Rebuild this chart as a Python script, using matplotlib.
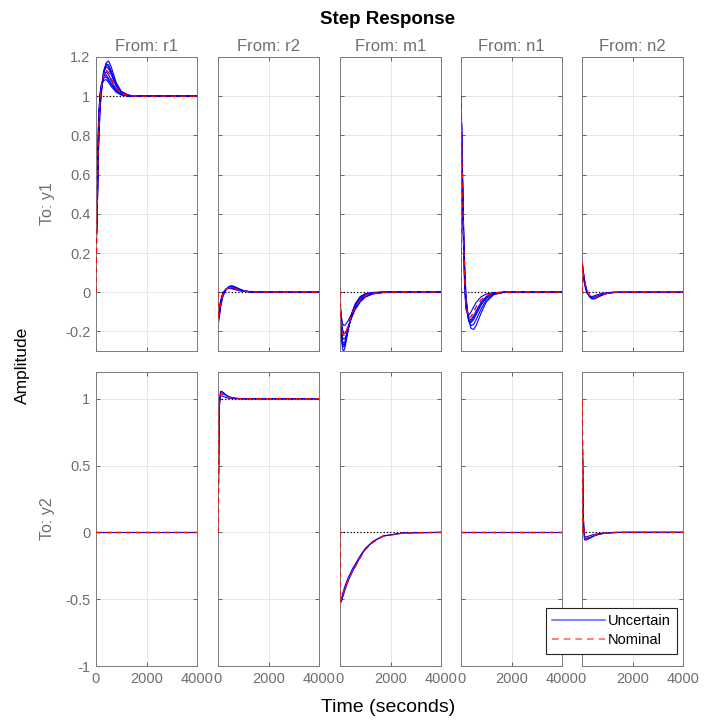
import matplotlib
matplotlib.use("Agg")
import matplotlib.pyplot as plt
from matplotlib.lines import Line2D

plt.rcParams['font.family'] = ['Liberation Sans', 'DejaVu Sans']

# sample times (s) shared by every response
t = [0, 1, 50, 100, 150, 200, 300, 400, 500, 600, 800, 1000, 1300, 1700, 2500, 4000]

inputs = ['r1', 'r2', 'm1', 'n1', 'n2']
outputs = ['y1', 'y2']
final = {('y1', 'r1'): 1, ('y2', 'r2'): 1}

# nominal responses
nom_y1 = {
    'r1': [0, 0.05, 0.45, 0.80, 0.96, 1.04, 1.11, 1.135, 1.12, 1.09, 1.04, 1.015, 1.003, 1.0, 1.0, 1.0],
    'r2': [0, -0.14, -0.10, -0.06, -0.03, -0.01, 0.012, 0.022, 0.024, 0.022, 0.013, 0.006, 0.001, 0, 0, 0],
    'm1': [0, -0.05, -0.15, -0.21, -0.22, -0.215, -0.18, -0.14, -0.105, -0.077, -0.04, -0.018, -0.005, -0.001, 0, 0],
    'n1': [0, 1, 0.62, 0.28, 0.05, -0.07, -0.13, -0.125, -0.10, -0.075, -0.038, -0.017, -0.004, 0, 0, 0],
    'n2': [0, 0.15, 0.10, 0.06, 0.03, 0.01, -0.015, -0.027, -0.028, -0.024, -0.014, -0.006, -0.001, 0, 0, 0],
}
nom_y2 = {
    'r1': [0] * 16,
    'r2': [0, 0, 0.95, 1.035, 1.035, 1.03, 1.02, 1.012, 1.007, 1.004, 1.001, 1.0, 1.0, 1.0, 1.0, 1.0],
    'm1': [0, -0.52, -0.50, -0.47, -0.44, -0.42, -0.37, -0.33, -0.29, -0.26, -0.19, -0.13, -0.075, -0.03, -0.005, 0],
    'n1': [0] * 16,
    'n2': [0, 1, 0.10, -0.04, -0.045, -0.042, -0.035, -0.027, -0.02, -0.015, -0.008, -0.004, -0.001, 0, 0, 0],
}

# a few of the uncertain (sampled) responses
unc_y1 = {
    'r1': [
        [0, 0.2, 0.40, 0.72, 0.90, 1.00, 1.11, 1.17, 1.18, 1.15, 1.07, 1.025, 1.005, 1.0, 1.0, 1.0],
        [0, 0.2, 0.50, 0.85, 0.99, 1.05, 1.10, 1.11, 1.09, 1.065, 1.03, 1.01, 1.0, 1.0, 1.0, 1.0],
        [0, 0.2, 0.45, 0.78, 0.94, 1.02, 1.12, 1.15, 1.14, 1.11, 1.05, 1.02, 1.004, 1.0, 1.0, 1.0],
        [0, 0.2, 0.55, 0.88, 1.00, 1.05, 1.08, 1.085, 1.07, 1.05, 1.02, 1.006, 1.0, 1.0, 1.0, 1.0],
        [0, 0.2, 0.42, 0.75, 0.92, 1.01, 1.13, 1.165, 1.16, 1.13, 1.06, 1.022, 1.004, 1.0, 1.0, 1.0],
        [0, 0.2, 0.48, 0.82, 0.97, 1.04, 1.10, 1.125, 1.11, 1.08, 1.035, 1.012, 1.002, 1.0, 1.0, 1.0],
        [0, 0.2, 0.44, 0.77, 0.93, 1.015, 1.115, 1.16, 1.15, 1.12, 1.055, 1.02, 1.003, 1.0, 1.0, 1.0],
        [0, 0.2, 0.52, 0.86, 0.99, 1.05, 1.09, 1.10, 1.08, 1.06, 1.025, 1.008, 1.0, 1.0, 1.0, 1.0],
    ],
    'r2': [
        [0, -0.17, -0.13, -0.08, -0.045, -0.02, 0.008, 0.025, 0.033, 0.032, 0.02, 0.009, 0.002, 0, 0, 0],
        [0, -0.12, -0.08, -0.045, -0.02, -0.003, 0.015, 0.02, 0.019, 0.016, 0.009, 0.004, 0.001, 0, 0, 0],
        [0, -0.15, -0.11, -0.065, -0.035, -0.012, 0.013, 0.026, 0.029, 0.026, 0.016, 0.007, 0.001, 0, 0, 0],
        [0, -0.16, -0.12, -0.07, -0.04, -0.016, 0.01, 0.024, 0.028, 0.028, 0.018, 0.008, 0.002, 0, 0, 0],
        [0, -0.13, -0.09, -0.05, -0.025, -0.006, 0.014, 0.021, 0.022, 0.019, 0.011, 0.005, 0.001, 0, 0, 0],
    ],
    'm1': [
        [0, -0.08, -0.22, -0.29, -0.30, -0.28, -0.21, -0.145, -0.095, -0.06, -0.022, -0.007, -0.001, 0, 0, 0],
        [0, -0.05, -0.12, -0.16, -0.17, -0.168, -0.15, -0.125, -0.10, -0.078, -0.045, -0.024, -0.009, -0.002, 0, 0],
        [0, -0.06, -0.18, -0.25, -0.26, -0.25, -0.20, -0.15, -0.11, -0.08, -0.038, -0.016, -0.004, 0, 0, 0],
        [0, -0.04, -0.13, -0.19, -0.21, -0.21, -0.185, -0.15, -0.118, -0.09, -0.05, -0.025, -0.008, -0.001, 0, 0],
        [0, -0.07, -0.20, -0.27, -0.28, -0.265, -0.20, -0.14, -0.095, -0.063, -0.025, -0.009, -0.002, 0, 0, 0],
        [0, -0.05, -0.16, -0.23, -0.24, -0.235, -0.195, -0.15, -0.112, -0.082, -0.042, -0.02, -0.006, 0, 0, 0],
        [0, -0.06, -0.19, -0.26, -0.27, -0.26, -0.205, -0.148, -0.10, -0.068, -0.03, -0.011, -0.003, 0, 0, 0],
    ],
    'n1': [
        [0, 1, 0.68, 0.35, 0.12, -0.02, -0.14, -0.185, -0.19, -0.17, -0.105, -0.05, -0.012, -0.001, 0, 0],
        [0, 1, 0.58, 0.22, 0.00, -0.09, -0.12, -0.10, -0.075, -0.052, -0.023, -0.009, -0.002, 0, 0, 0],
        [0, 1, 0.64, 0.30, 0.07, -0.05, -0.14, -0.155, -0.14, -0.115, -0.065, -0.03, -0.007, 0, 0, 0],
        [0, 1, 0.60, 0.25, 0.03, -0.08, -0.135, -0.14, -0.12, -0.095, -0.05, -0.022, -0.005, 0, 0, 0],
        [0, 1, 0.66, 0.33, 0.10, -0.035, -0.145, -0.17, -0.165, -0.14, -0.085, -0.04, -0.01, 0, 0, 0],
        [0, 1, 0.62, 0.28, 0.05, -0.065, -0.14, -0.15, -0.13, -0.105, -0.058, -0.026, -0.006, 0, 0, 0],
    ],
    'n2': [
        [0, 0.17, 0.11, 0.065, 0.03, 0.005, -0.025, -0.035, -0.034, -0.028, -0.015, -0.006, -0.001, 0, 0, 0],
        [0, 0.13, 0.08, 0.04, 0.012, -0.005, -0.02, -0.022, -0.018, -0.013, -0.006, -0.002, 0, 0, 0, 0],
        [0, 0.16, 0.10, 0.055, 0.025, 0.002, -0.022, -0.031, -0.031, -0.026, -0.014, -0.006, -0.001, 0, 0, 0],
        [0, 0.14, 0.09, 0.05, 0.02, 0.0, -0.02, -0.026, -0.024, -0.019, -0.01, -0.004, 0, 0, 0, 0],
    ],
}
unc_y2 = {
    'r1': [[0] * 16],
    'r2': [
        [0, 0, 0.97, 1.055, 1.055, 1.048, 1.032, 1.02, 1.012, 1.007, 1.002, 1.0, 1.0, 1.0, 1.0, 1.0],
        [0, 0, 0.93, 1.02, 1.022, 1.018, 1.01, 1.005, 1.003, 1.001, 1.0, 1.0, 1.0, 1.0, 1.0, 1.0],
        [0, 0, 0.96, 1.045, 1.045, 1.04, 1.026, 1.016, 1.009, 1.005, 1.001, 1.0, 1.0, 1.0, 1.0, 1.0],
    ],
    'm1': [
        [0, -0.53, -0.52, -0.49, -0.46, -0.43, -0.375, -0.33, -0.29, -0.255, -0.185, -0.125, -0.07, -0.028, -0.004, 0],
        [0, -0.51, -0.50, -0.465, -0.43, -0.40, -0.35, -0.31, -0.27, -0.24, -0.175, -0.12, -0.068, -0.027, -0.004, 0],
    ],
    'n1': [[0] * 16],
    'n2': [
        [0, 1, 0.08, -0.055, -0.058, -0.054, -0.045, -0.035, -0.026, -0.019, -0.01, -0.005, -0.001, 0, 0, 0],
        [0, 1, 0.12, -0.03, -0.035, -0.032, -0.026, -0.02, -0.015, -0.011, -0.006, -0.003, -0.001, 0, 0, 0],
        [0, 1, 0.10, -0.048, -0.05, -0.047, -0.04, -0.031, -0.023, -0.017, -0.009, -0.004, -0.001, 0, 0, 0],
    ],
}

W, H = 704, 720
col_left = [96, 218, 340, 461, 582]
col_w = 101
row_top = [57, 372]
row_h = 294
gray = '#6e6e6e'

fig = plt.figure(figsize=(W / 100, H / 100), dpi=100)

for i, out in enumerate(outputs):
    nom = nom_y1 if out == 'y1' else nom_y2
    unc = unc_y1 if out == 'y1' else unc_y2
    for j, inp in enumerate(inputs):
        ax = fig.add_axes([col_left[j] / W, 1 - (row_top[i] + row_h) / H, col_w / W, row_h / H])
        ax.axhline(final.get((out, inp), 0), color='k', ls=':', lw=0.9, zorder=1)
        for y in unc[inp]:
            ax.plot(t, y, color='b', lw=0.8, zorder=2)
        ax.plot(t, nom[inp], color='r', ls='--', lw=1.0, dashes=(4, 3), zorder=3)
        ax.set_xlim(0, 4000)
        ax.set_xticks([0, 2000, 4000])
        if out == 'y1':
            ax.set_ylim(-0.3, 1.2)
            ax.set_yticks([-0.2, 0, 0.2, 0.4, 0.6, 0.8, 1, 1.2])
            ax.set_yticklabels(['-0.2', '0', '0.2', '0.4', '0.6', '0.8', '1', '1.2'])
            ax.tick_params(labelbottom=False)
            ax.set_title('From: ' + inp, color=gray, fontsize=12, pad=4)
        else:
            ax.set_ylim(-1, 1.2)
            ax.set_yticks([-1, -0.5, 0, 0.5, 1])
            ax.set_yticklabels(['-1', '-0.5', '0', '0.5', '1'])
            ax.set_xticklabels(['0', '2000', '4000'])
        if j > 0:
            ax.tick_params(labelleft=False)
        ax.grid(True, color='#e3e3e3', lw=0.6)
        ax.set_axisbelow(True)
        ax.tick_params(direction='in', length=3, width=0.6, colors='#4d4d4d',
                       labelcolor=gray, labelsize=10.5, top=True, right=True, pad=4)
        for s in ax.spines.values():
            s.set_color('#7a7a7a')
            s.set_linewidth(0.7)
        if j == 0:
            ax.set_ylabel('To: ' + out, color=gray, fontsize=11.5, labelpad=7)

fig.text(388 / W, 1 - 20 / H, 'Step Response', ha='center', va='center',
         fontsize=13.5, fontweight='bold')
fig.text(388 / W, 1 - 708 / H, 'Time (seconds)', ha='center', va='center', fontsize=14)
fig.text(22 / W, 1 - 365 / H, 'Amplitude', ha='center', va='center',
         rotation=90, fontsize=12.5)

handles = [Line2D([], [], color='#6a6aff', lw=1.2),
           Line2D([], [], color='#ff6a6a', lw=1.2, ls='--', dashes=(4, 3))]
leg = fig.legend(handles, ['Uncertain', 'Nominal'], loc='lower right',
                 bbox_to_anchor=(677 / W, 1 - 654 / H),
                 fontsize=10.5, frameon=True, fancybox=False, framealpha=1,
                 handlelength=3.6, borderpad=0.45, labelspacing=0.35, handletextpad=0.2,
                 borderaxespad=0)
leg.get_frame().set_edgecolor('#222222')
leg.get_frame().set_linewidth(0.8)

fig.savefig('out.png', dpi=100)
